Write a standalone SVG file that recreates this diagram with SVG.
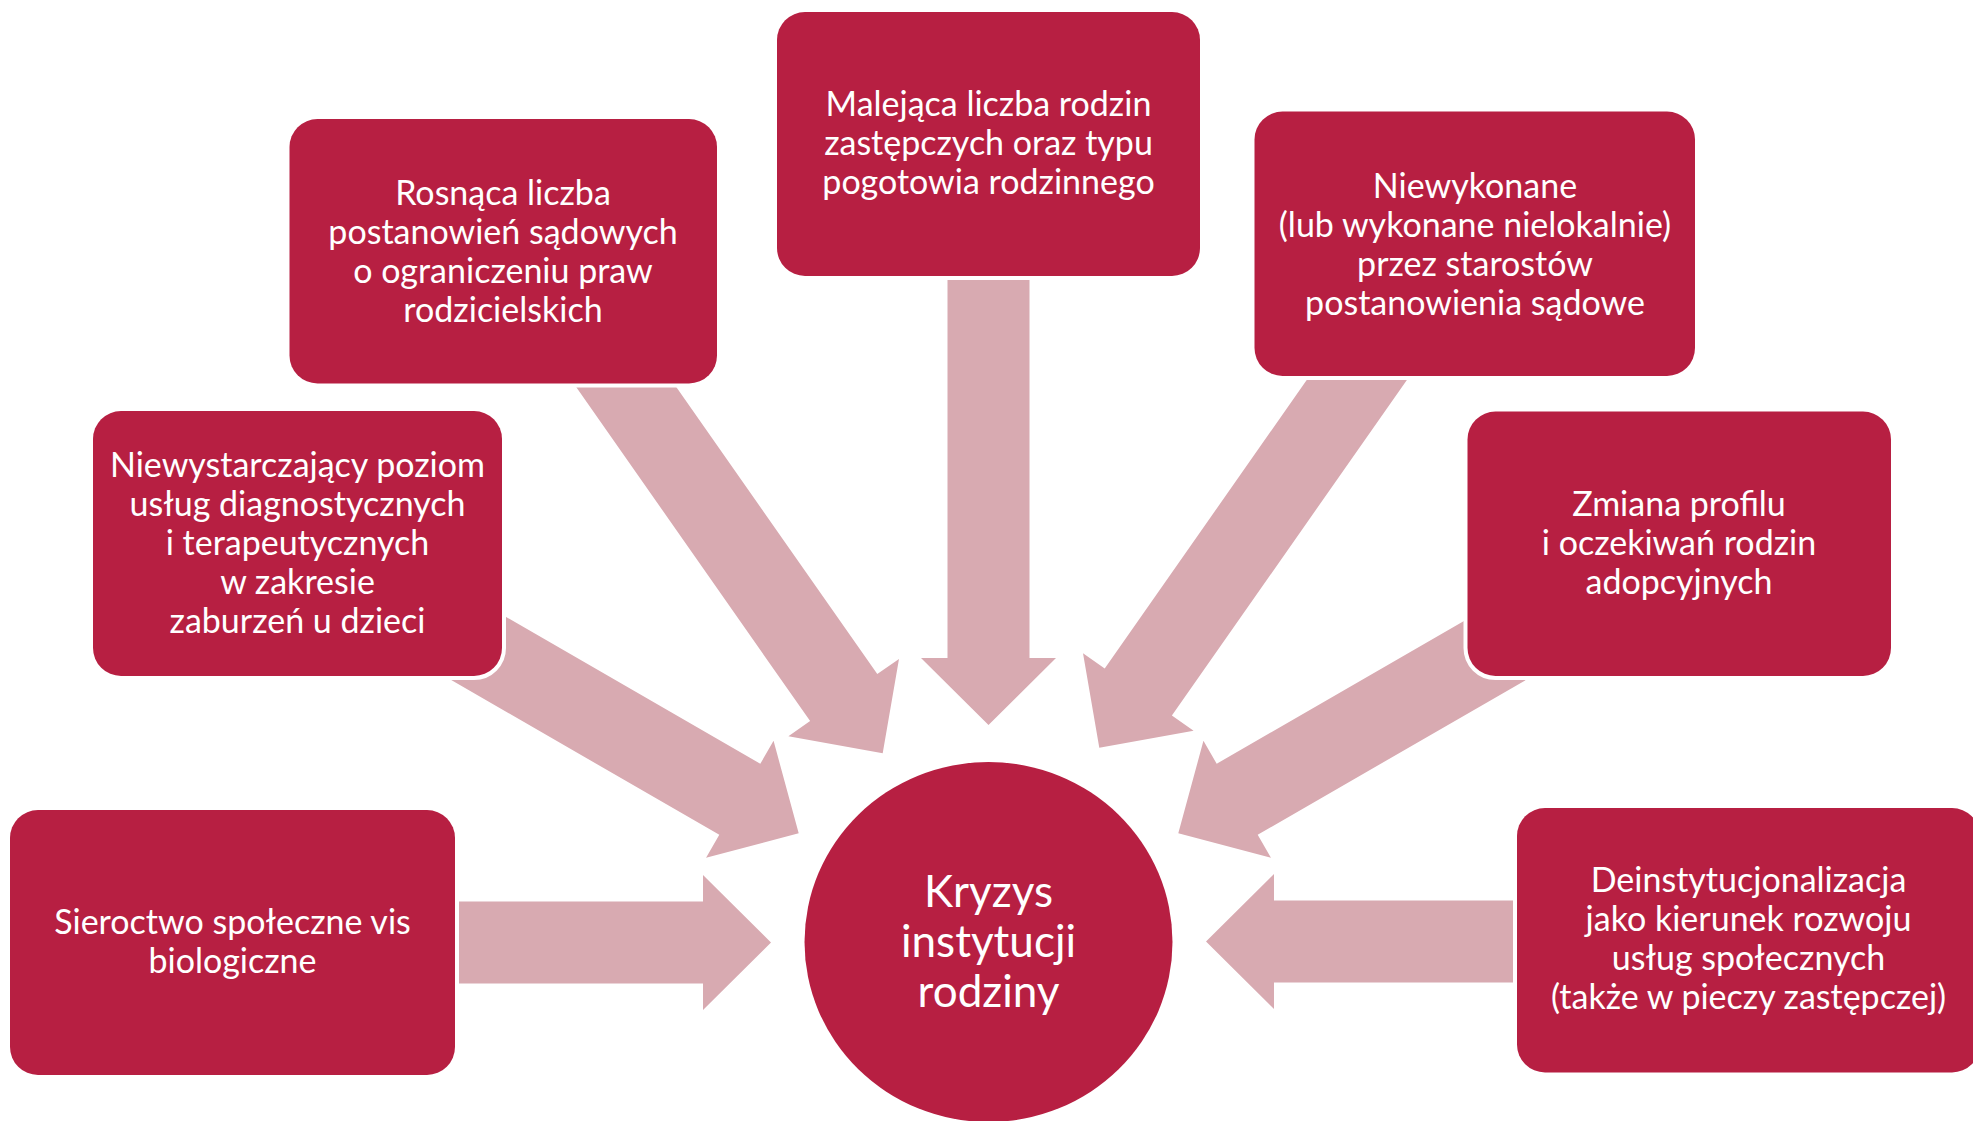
<svg xmlns="http://www.w3.org/2000/svg" width="1973" height="1121" viewBox="0 0 1973 1121">
<style>
.box{fill:#B71F42;stroke:#FFFFFF;stroke-width:8;paint-order:stroke}
.arr{fill:#D8AAB1}
.t{font-family:Lato,"Liberation Sans",sans-serif;font-size:34px;fill:#FFFFFF;text-anchor:middle}
.c{font-family:Lato,"Liberation Sans",sans-serif;font-size:44px;fill:#FFFFFF;text-anchor:middle}
</style>
<rect width="1973" height="1121" fill="#FFFFFF"/>
<g id="connectors">
<path class="arr" transform="translate(771,942.5)" d="M0,0 L-68,-67.5 L-68,-41 L-321,-41 L-321,41 L-68,41 L-68,67.5 Z"/>
<path class="arr" transform="translate(798.7,833.3) rotate(30)" d="M0,0 L-68,-67.5 L-68,-41 L-420,-41 L-420,41 L-68,41 L-68,67.5 Z"/>
<path class="arr" transform="translate(882.7,753.3) rotate(55)" d="M0,0 L-68,-67.5 L-68,-41 L-500,-41 L-500,41 L-68,41 L-68,67.5 Z"/>
<path class="arr" transform="translate(988.5,725) rotate(90)" d="M0,0 L-67,-67.5 L-67,-41 L-457,-41 L-457,41 L-67,41 L-67,67.5 Z"/>
<path class="arr" transform="translate(1099.3,747.7) rotate(125)" d="M0,0 L-68,-67.5 L-68,-41 L-500,-41 L-500,41 L-68,41 L-68,67.5 Z"/>
<path class="arr" transform="translate(1178.3,833.3) rotate(150)" d="M0,0 L-68,-67.5 L-68,-41 L-420,-41 L-420,41 L-68,41 L-68,67.5 Z"/>
<path class="arr" transform="translate(1206,941.5) rotate(180)" d="M0,0 L-68,-67.5 L-68,-41 L-319,-41 L-319,41 L-68,41 L-68,67.5 Z"/>
</g>
<g id="node-sieroctwo">
<rect class="box" x="10" y="810" width="445" height="265" rx="28"/>
<text class="t" x="232.5" y="934">Sieroctwo społeczne vis</text>
<text class="t" x="232.5" y="973">biologiczne</text>
</g>
<g id="node-niewystarczajacy">
<rect class="box" x="93" y="411" width="409" height="265" rx="28"/>
<text class="t" x="297.5" y="477">Niewystarczający poziom</text>
<text class="t" x="297.5" y="516">usług diagnostycznych</text>
<text class="t" x="297.5" y="555">i terapeutycznych</text>
<text class="t" x="297.5" y="594">w zakresie</text>
<text class="t" x="297.5" y="633">zaburzeń u dzieci</text>
</g>
<g id="node-rosnaca">
<rect class="box" x="289.5" y="119" width="427.5" height="264.5" rx="28"/>
<text class="t" x="503" y="205">Rosnąca liczba</text>
<text class="t" x="503" y="244">postanowień sądowych</text>
<text class="t" x="503" y="283">o ograniczeniu praw</text>
<text class="t" x="503" y="322">rodzicielskich</text>
</g>
<g id="node-malejaca">
<rect class="box" x="777" y="12" width="423" height="264" rx="28"/>
<text class="t" x="988.5" y="116">Malejąca liczba rodzin</text>
<text class="t" x="988.5" y="155">zastępczych oraz typu</text>
<text class="t" x="988.5" y="193.5">pogotowia rodzinnego</text>
</g>
<g id="node-niewykonane">
<rect class="box" x="1254.5" y="111.5" width="440.5" height="264.5" rx="28"/>
<text class="t" x="1475" y="197.5">Niewykonane</text>
<text class="t" x="1475" y="236.5">(lub wykonane nielokalnie)</text>
<text class="t" x="1475" y="275.5">przez starostów</text>
<text class="t" x="1475" y="314.5">postanowienia sądowe</text>
</g>
<g id="node-zmiana">
<rect class="box" x="1467.5" y="411.5" width="423.5" height="264.5" rx="28"/>
<text class="t" x="1679" y="516">Zmiana profilu</text>
<text class="t" x="1679" y="555">i oczekiwań rodzin</text>
<text class="t" x="1679" y="594">adopcyjnych</text>
</g>
<g id="node-deinstytucjonalizacja">
<rect class="box" x="1517" y="808" width="463" height="264.5" rx="28"/>
<text class="t" x="1748.5" y="892">Deinstytucjonalizacja</text>
<text class="t" x="1748.5" y="931">jako kierunek rozwoju</text>
<text class="t" x="1748.5" y="970">usług społecznych</text>
<text class="t" x="1748.5" y="1009">(także w pieczy zastępczej)</text>
</g>
<g id="node-kryzys">
<ellipse cx="988.5" cy="942" rx="184" ry="180" fill="#B71F42"/>
<text class="c" x="988.5" y="906.7">Kryzys</text>
<text class="c" x="988.5" y="956.7">instytucji</text>
<text class="c" x="988.5" y="1006.7">rodziny</text>
</g>
</svg>
